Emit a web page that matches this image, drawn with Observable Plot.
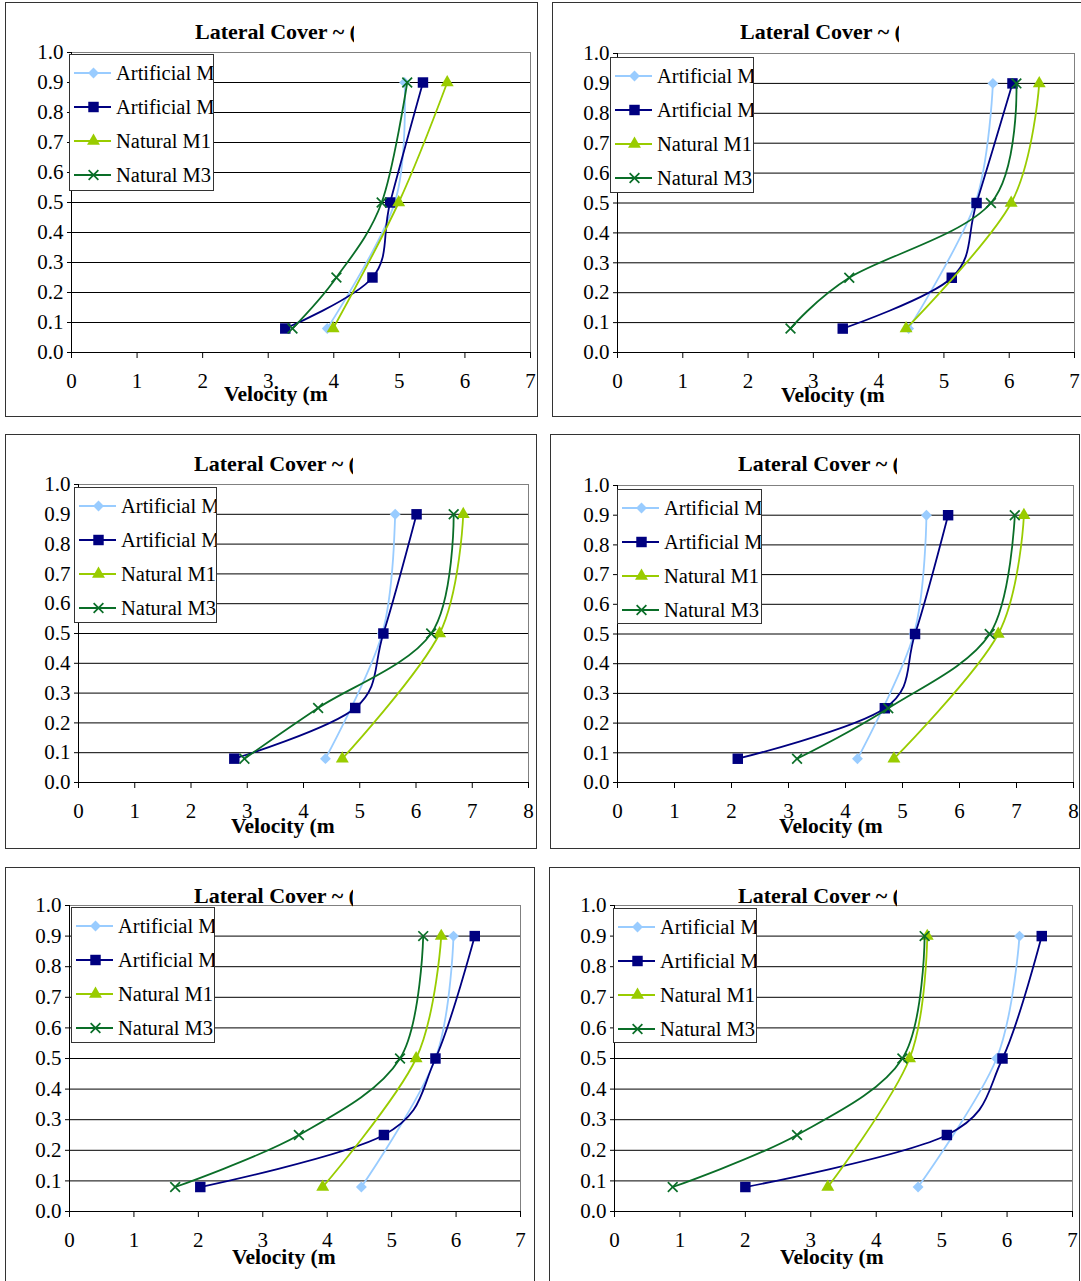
<!DOCTYPE html>
<html><head><meta charset="utf-8">
<script src="https://cdn.jsdelivr.net/npm/d3@7"></script>
<script src="https://cdn.jsdelivr.net/npm/@observablehq/plot@0.6"></script>
<style>
html,body{margin:0;padding:0;background:#fff;}
#chart{position:relative;width:1081px;height:1281px;overflow:hidden;font-family:"Liberation Serif","Times New Roman",serif;color:#000;}
#chart svg text{font-family:"Liberation Serif","Times New Roman",serif !important;}
#chart svg.plot g[aria-label="y-axis tick label"] text,#chart svg.plot g[aria-label="x-axis tick label"] text{font-size:21px !important;}
.box{position:absolute;border:1px solid #333;box-sizing:border-box;}
.title,.xlab{position:absolute;white-space:nowrap;overflow:hidden;font-weight:bold;}
.title{font-size:22px;line-height:22px;height:24px;}
.xlab{font-size:21.5px;line-height:22px;height:26px;}
.legend{position:absolute;border:1px solid #333;background:#fff;overflow:hidden;box-sizing:border-box;}
.row{position:absolute;left:0;height:24px;width:300px;}
.row svg{position:absolute;left:0;top:0;}
.row span{position:absolute;left:46px;top:0;line-height:24px;font-size:20.5px;white-space:nowrap;}
.plot{position:absolute;}
</style></head><body><div id="chart"></div>
<script>
// ---- data ----
const titleText = "Lateral Cover ~ (";
const xLabelText = "Velocity (m";
const seriesNames = ["Artificial M1", "Artificial M3", "Natural M1", "Natural M3"];
const depths3 = [0.08, 0.5, 0.9];
const depths4 = [0.08, 0.25, 0.5, 0.9];
const yTicks = [0, 0.1, 0.2, 0.3, 0.4, 0.5, 0.6, 0.7, 0.8, 0.9, 1.0];
const gridTicks = [0.1, 0.2, 0.3, 0.4, 0.5, 0.6, 0.7, 0.8, 0.9];
const xTicks7 = [0, 1, 2, 3, 4, 5, 6, 7];
const xTicks8 = [0, 1, 2, 3, 4, 5, 6, 7, 8];
const panelXMax = [7, 7, 8, 8, 7, 7];
// velocities per panel (Artificial M1 & Natural M1 at depths3; Artificial M3 & Natural M3 at depths4)
const artM1 = [[3.90, 4.93, 5.08], [4.46, 5.48, 5.75], [4.39, 5.40, 5.63], [4.21, 5.20, 5.42], [4.53, 5.68, 5.96], [4.64, 5.84, 6.19]];
const artM3 = [[3.26, 4.59, 4.86, 5.36], [3.45, 5.12, 5.50, 6.05], [2.77, 4.92, 5.42, 6.01], [2.11, 4.69, 5.22, 5.80], [2.03, 4.88, 5.68, 6.29], [2.00, 5.08, 5.93, 6.53]];
const natM1 = [[3.99, 4.99, 5.73], [4.42, 6.03, 6.46], [4.69, 6.42, 6.84], [4.85, 6.68, 7.13], [3.93, 5.38, 5.77], [3.26, 4.51, 4.78]];
const natM3 = [[3.37, 4.04, 4.73, 5.12], [2.65, 3.55, 5.72, 6.11], [2.95, 4.26, 6.27, 6.67], [3.15, 4.75, 6.53, 6.97], [1.64, 3.56, 5.13, 5.49], [0.89, 2.79, 4.40, 4.74]];

// ---- styles ----
const seriesStyle = [
  {color: "#99CCFF", symbol: "diamond2", d3sym: d3.symbolDiamond2, r: 4.9, filled: true},
  {color: "#000080", symbol: "square", d3sym: d3.symbolSquare, r: 5.9, filled: true},
  {color: "#99CC00", symbol: "triangle", d3sym: d3.symbolTriangle, r: 4.8, filled: true},
  {color: "#0A6E28", symbol: "times", d3sym: d3.symbolTimes, r: 4.5, filled: false}
];
const serif = "'Liberation Serif','Times New Roman',serif";

// ---- layout (pixels in page) ----
const layout = [
  {box: [5, 2, 538, 417], x0: 71, x1: 530, yt: 52, yb: 352, title: [195, 33], xlab: [224, 395], leg: [69, 54, 214, 191]},
  {box: [552, 2, 1095, 417], x0: 617, x1: 1074, yt: 53, yb: 352, title: [740, 33], xlab: [781, 396], leg: [610, 57, 754, 193]},
  {box: [5, 434, 537, 849], x0: 78, x1: 528, yt: 484, yb: 782, title: [194, 465], xlab: [231, 827], leg: [74, 487, 217, 623]},
  {box: [550, 434, 1080, 849], x0: 617, x1: 1073, yt: 485, yb: 782, title: [738, 465], xlab: [779, 827], leg: [617, 489, 762, 624]},
  {box: [5, 867, 535, 1295], x0: 69, x1: 520, yt: 905, yb: 1211, title: [194, 897], xlab: [232, 1258], leg: [71, 907, 215, 1043]},
  {box: [549, 867, 1080, 1295], x0: 614, x1: 1072, yt: 905, yb: 1211, title: [738, 897], xlab: [780, 1258], leg: [613, 908, 757, 1043]}
];

const chart = document.getElementById("chart");
function el(tag, cls, css, parent) {
  const e = document.createElement(tag);
  if (cls) e.className = cls;
  Object.assign(e.style, css || {});
  (parent || chart).appendChild(e);
  return e;
}

function panelSeries(i) {
  const vals = [artM1[i], artM3[i], natM1[i], natM3[i]];
  return vals.map((v, k) => {
    const ds = v.length === 3 ? depths3 : depths4;
    return v.map((x, j) => ({v: x, d: ds[j], s: seriesNames[k]}));
  });
}

layout.forEach((g, i) => {
  el("div", "box", {left: g.box[0] + "px", top: g.box[1] + "px", width: (g.box[2] - g.box[0]) + "px", height: (g.box[3] - g.box[1]) + "px"});

  const xmax = panelXMax[i];
  const xt = xmax === 8 ? xTicks8 : xTicks7;
  const mL = 50, mR = 20, mT = 12, mB = 60;
  const W = g.x1 - g.x0 + mL + mR, H = g.yb - g.yt + mT + mB;
  const series = panelSeries(i);
  const marks = [
    Plot.ruleY(gridTicks, {stroke: "#000", strokeWidth: 1}),
    Plot.ruleY([1], {stroke: "#808080", strokeWidth: 1}),
    Plot.ruleX([xmax], {stroke: "#808080", strokeWidth: 1}),
    Plot.axisY({ticks: yTicks, tickFormat: d3.format(".1f"), tickSize: 4, tickPadding: 4, stroke: "#000", fill: "#000", fontSize: 21, fontFamily: serif, label: null}),
    Plot.axisX({ticks: xt, tickFormat: d => String(d), tickSize: 6, tickPadding: 15, stroke: "#000", fill: "#000", fontSize: 21, fontFamily: serif, label: null}),
    Plot.ruleX([0], {stroke: "#000", strokeWidth: 1}),
    Plot.ruleY([0], {stroke: "#000", strokeWidth: 1})
  ];
  series.forEach((data, k) => {
    const st = seriesStyle[k];
    marks.push(Plot.line(data, {x: "v", y: "d", curve: "cardinal", tension: 0, stroke: st.color, strokeWidth: 1.8}));
    if (st.filled) {
      marks.push(Plot.dot(data, {x: "v", y: "d", symbol: st.symbol, r: st.r, fill: st.color, stroke: "none"}));
    } else {
      marks.push(Plot.dot(data, {x: "v", y: "d", symbol: st.symbol, r: st.r, fill: "none", stroke: st.color, strokeWidth: 1.7}));
    }
  });
  const svg = Plot.plot({
    width: W, height: H,
    marginLeft: mL, marginRight: mR, marginTop: mT, marginBottom: mB,
    x: {domain: [0, xmax]},
    y: {domain: [0, 1]},
    style: {background: "transparent", fontFamily: serif, fontSize: "21px", color: "#000", overflow: "visible"},
    marks
  });
  svg.classList.add("plot");
  svg.style.left = (g.x0 - mL) + "px";
  svg.style.top = (g.yt - mT) + "px";
  chart.appendChild(svg);

  const t = el("div", "title", {left: g.title[0] + "px", top: (g.title[1] - 12) + "px", width: "159px"});
  t.textContent = titleText;
  const xl = el("div", "xlab", {left: g.xlab[0] + "px", top: (g.xlab[1] - 12) + "px"});
  xl.textContent = xLabelText;

  const lg = el("div", "legend", {left: g.leg[0] + "px", top: g.leg[1] + "px", width: (g.leg[2] - g.leg[0]) + "px", height: (g.leg[3] - g.leg[1]) + "px"});
  const rowOffsets = [18, 52, 86, 120];
  seriesNames.forEach((name, k) => {
    const st = seriesStyle[k];
    const row = el("div", "row", {top: (rowOffsets[k] - 12) + "px"}, lg);
    const ns = "http://www.w3.org/2000/svg";
    const s = document.createElementNS(ns, "svg");
    s.setAttribute("width", 46); s.setAttribute("height", 24);
    const ln = document.createElementNS(ns, "line");
    ln.setAttribute("x1", 4); ln.setAttribute("x2", 41); ln.setAttribute("y1", 12); ln.setAttribute("y2", 12);
    ln.setAttribute("stroke", st.color); ln.setAttribute("stroke-width", 1.8);
    s.appendChild(ln);
    const p = document.createElementNS(ns, "path");
    p.setAttribute("d", d3.symbol(st.d3sym, Math.PI * st.r * st.r)());
    p.setAttribute("transform", "translate(23.5,12)");
    if (st.filled) { p.setAttribute("fill", st.color); }
    else { p.setAttribute("fill", "none"); p.setAttribute("stroke", st.color); p.setAttribute("stroke-width", 1.7); }
    s.appendChild(p);
    row.appendChild(s);
    const sp = el("span", null, {}, row);
    sp.textContent = name;
  });
});
</script></body></html>
